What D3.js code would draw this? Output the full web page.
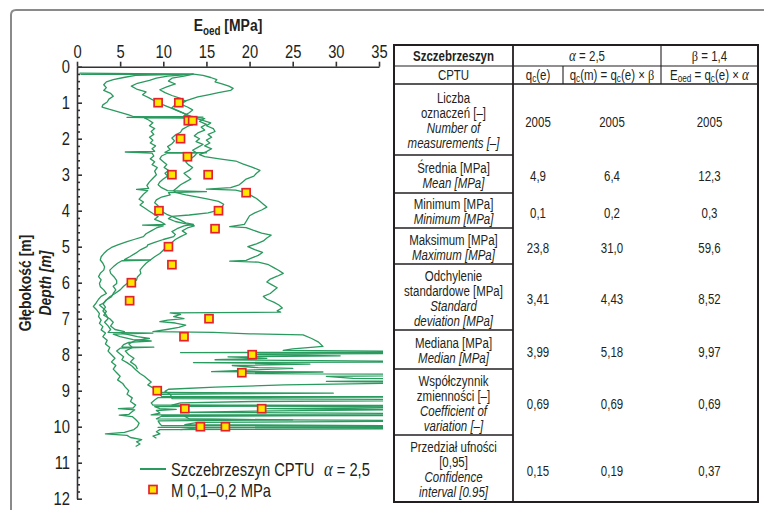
<!DOCTYPE html>
<html>
<head>
<meta charset="utf-8">
<script src="https://cdn.jsdelivr.net/npm/d3@7"></script>
<style>
  html, body { margin: 0; padding: 0; background: #fff; }
  svg { display: block; }
  text { font-family: "Liberation Sans", Arial, sans-serif; fill: #231f20; }
</style>
</head>
<body>
<svg id="chart" width="764" height="510"></svg>
<script>
// ---------- data ----------
const eTicks = [0, 5, 10, 15, 20, 25, 30, 35];            // E_oed [MPa]
const depthTicks = [0, 1, 2, 3, 4, 5, 6, 7, 8, 9, 10, 11, 12]; // depth [m]

// oedometer tests, M 0,1–0,2 MPa
const labDepth = [1.0, 1.0, 1.5, 1.5, 2.0, 2.5, 3.0, 3.0, 3.5, 4.0, 4.0, 4.5, 5.0, 5.5, 6.0, 6.5, 7.0, 7.5, 8.0, 8.5, 9.0, 9.5, 9.5, 10.0, 10.0];
const labE     = [9.4, 11.8, 12.9, 13.4, 12.0, 12.8, 11.0, 15.2, 19.6, 9.5, 16.4, 16.0, 10.6, 11.0, 6.3, 6.1, 15.3, 12.4, 20.3, 19.1, 9.3, 12.5, 21.4, 14.3, 17.2];

// CPTU soundings, Eoed = qc(e) x alpha : [depth m, Eoed MPa]
const soundingA = [
  [0.18,0.3],[0.205,13.4],[0.24,6.8],[0.30,5.4],[0.36,4.2],[0.42,3.4],[0.50,3.1],[0.58,3.4],[0.66,3.1],[0.74,3.9],
  [0.82,4.2],[0.90,3.7],[0.98,3.5],[1.06,3.0],[1.12,2.9],[1.18,3.7],[1.26,4.9],[1.34,6.0],[1.39,6.6],[1.40,14.6],
  [1.42,7.8],[1.48,8.3],[1.56,8.8],[1.64,8.4],[1.72,9.0],[1.80,8.6],[1.88,8.9],[1.96,8.4],[2.04,8.8],[2.12,8.5],
  [2.20,9.1],[2.28,8.7],[2.35,9.0],[2.37,5.6],[2.40,8.7],[2.48,8.9],[2.56,8.5],[2.64,9.0],[2.72,8.7],[2.80,9.3],
  [2.90,9.0],[3.00,9.2],[3.10,8.8],[3.20,8.4],[3.30,8.1],[3.38,8.3],[3.41,6.9],[3.44,8.2],[3.52,7.8],[3.60,7.5],
  [3.68,7.2],[3.76,7.7],[3.84,7.3],[3.92,7.8],[4.00,8.3],[4.08,8.8],[4.16,9.4],[4.24,9.0],[4.32,9.8],[4.38,10.2],
  [4.40,7.6],[4.42,10.0],[4.48,9.2],[4.56,8.6],[4.64,8.0],[4.72,7.7],[4.80,6.6],[4.86,5.8],[4.94,4.8],[5.02,4.0],
  [5.10,3.5],[5.19,3.1],[5.28,2.8],[5.37,2.7],[5.46,3.0],[5.56,3.2],[5.65,3.1],[5.74,2.7],[5.83,2.5],[5.92,2.8],
  [6.02,2.6],[6.11,2.7],[6.20,3.1],[6.30,3.4],[6.38,2.8],[6.46,2.5],[6.57,2.2],[6.66,1.9],[6.76,2.3],[6.86,2.6],
  [6.94,2.5],[7.04,2.8],[7.13,2.6],[7.22,3.0],[7.31,2.8],[7.40,3.3],[7.50,3.0],[7.60,3.5],[7.70,3.3],[7.80,3.8],
  [7.90,3.6],[8.00,4.0],[8.10,4.4],[8.20,4.0],[8.30,4.5],[8.40,4.2],[8.50,4.6],[8.60,5.0],[8.70,4.7],[8.80,5.3],
  [8.90,5.6],[9.00,6.0],[9.10,5.8],[9.20,6.4],[9.30,6.2],[9.40,6.8],[9.48,6.5],[9.50,4.8],[9.53,6.7],[9.60,6.3],
  [9.66,6.0],[9.68,4.9],[9.72,6.4],[9.80,6.8],[9.90,7.2],[10.00,7.0],[10.08,6.6],[10.16,5.5],[10.20,3.3],[10.24,5.8],
  [10.30,6.2],[10.36,7.5],[10.42,6.9],[10.48,7.3],[10.55,6.8]
];
const soundingB = [
  [0.215,0.4],[0.205,13.5],[0.26,10.5],[0.32,9.2],[0.38,8.4],[0.46,7.0],[0.54,6.3],[0.62,6.9],[0.70,8.0],[0.78,7.6],
  [0.86,8.3],[0.94,8.9],[1.00,9.4],[1.08,10.2],[1.16,11.0],[1.24,11.8],[1.32,12.6],[1.38,13.2],[1.41,5.8],[1.43,12.4],
  [1.50,13.0],[1.58,13.6],[1.66,12.8],[1.74,12.2],[1.82,12.0],[1.90,11.4],[1.98,11.0],[2.06,11.3],[2.14,11.0],[2.22,10.5],
  [2.30,10.8],[2.38,10.2],[2.39,15.0],[2.41,10.4],[2.48,9.8],[2.56,9.6],[2.64,10.0],[2.72,10.4],[2.80,10.1],[2.88,10.6],
  [2.96,10.2],[3.04,10.5],[3.12,10.0],[3.20,9.6],[3.28,9.4],[3.36,9.8],[3.44,10.5],[3.47,15.0],[3.50,10.6],[3.56,10.8],
  [3.62,9.8],[3.70,9.2],[3.78,9.0],[3.86,9.4],[3.94,9.2],[4.02,9.8],[4.10,10.4],[4.18,11.2],[4.26,12.0],[4.34,12.6],
  [4.38,13.5],[4.42,12.4],[4.50,11.6],[4.58,11.0],[4.66,11.4],[4.72,11.2],[4.80,10.0],[4.88,9.0],[4.95,8.2],[5.00,8.1],
  [5.08,7.4],[5.18,6.8],[5.28,6.1],[5.36,5.5],[5.37,8.5],[5.39,5.2],[5.46,4.7],[5.56,4.2],[5.65,3.8],[5.74,3.9],
  [5.84,4.3],[5.94,4.6],[6.02,4.6],[6.10,4.2],[6.20,4.5],[6.30,4.2],[6.39,4.0],[6.48,3.4],[6.58,3.0],[6.68,3.3],
  [6.78,3.0],[6.90,3.4],[7.00,3.6],[7.10,3.2],[7.20,3.6],[7.30,3.9],[7.38,3.6],[7.40,8.8],[7.43,4.2],[7.50,5.0],
  [7.58,6.5],[7.62,8.6],[7.66,6.0],[7.72,5.4],[7.78,5.2],[7.79,8.9],[7.82,5.0],[7.90,4.6],[7.98,5.0],[8.06,5.4],
  [8.14,5.2],[8.22,5.8],[8.32,6.4],[8.42,6.8],[8.52,7.3],[8.60,7.8],[8.68,8.2],[8.76,8.6],[8.84,8.2],[8.92,8.8],
  [9.00,9.3],[9.05,9.6],[9.07,29.7],[9.10,9.6],[9.16,9.8],[9.17,52.0],[9.19,9.4],[9.26,9.0],[9.34,8.6],[9.40,8.8],
  [9.41,47.0],[9.44,9.0],[9.50,9.6],[9.52,11.5],[9.55,9.2],[9.62,9.6],[9.67,8.6],[9.68,50.0],[9.71,9.8],[9.78,9.2],
  [9.81,25.0],[9.84,9.4],[9.92,9.6],[9.97,9.8],[9.98,58.0],[10.02,9.4],[10.05,55.0],[10.08,9.6],[10.14,9.2],[10.20,9.6],
  [10.26,8.8],[10.32,9.2]
];
const soundingC = [
  [0.205,13.5],[0.26,12.4],[0.32,11.0],[0.40,10.6],[0.48,11.4],[0.56,10.4],[0.64,9.6],[0.72,10.2],[0.80,11.0],[0.88,12.0],
  [0.96,12.6],[1.04,12.0],[1.12,12.8],[1.20,13.4],[1.28,13.0],[1.36,12.4],[1.40,13.8],[1.44,14.8],[1.52,14.2],[1.60,15.0],
  [1.68,14.4],[1.76,14.8],[1.84,14.0],[1.92,13.6],[2.00,14.2],[2.08,13.8],[2.16,14.6],[2.24,14.0],[2.32,13.4],[2.40,13.9],
  [2.48,13.6],[2.56,13.2],[2.64,12.6],[2.72,12.9],[2.80,13.4],[2.88,13.0],[2.96,12.4],[3.04,12.8],[3.12,13.2],[3.20,12.6],
  [3.28,12.0],[3.36,11.6],[3.44,11.2],[3.50,11.5],[3.56,12.6],[3.62,14.0],[3.68,15.2],[3.74,16.4],[3.82,17.0],[3.90,16.8],
  [3.98,16.5],[4.06,15.2],[4.12,13.0],[4.16,11.0],[4.22,10.6],[4.30,11.4],[4.36,12.5],[4.42,13.6],[4.48,12.8],[4.56,12.2],
  [4.64,12.7],[4.72,12.0],[4.80,11.4],[4.88,11.0],[4.95,10.8],[5.05,10.2],[5.19,9.6],[5.28,9.0],[5.37,8.5],[5.46,8.0],
  [5.56,7.6],[5.65,7.3],[5.74,7.4],[5.84,7.0],[5.93,6.9],[6.02,5.8],[6.10,5.4],[6.20,5.0],[6.30,4.4],[6.39,3.8],
  [6.48,3.4],[6.57,3.1],[6.62,2.6],[6.70,3.0],[6.80,3.4],[6.90,3.1],[7.00,3.8],[7.10,4.2],[7.20,3.9],[7.30,4.4],
  [7.36,5.5],[7.40,5.2],[7.50,7.0],[7.55,8.4],[7.60,6.8],[7.70,6.0],[7.80,6.4],[7.90,5.6],[8.00,6.0],[8.10,6.6],
  [8.20,6.2],[8.30,6.8],[8.40,7.0]
];
const soundingD = [
  [0.205,13.5],[0.24,14.6],[0.30,15.5],[0.36,16.2],[0.42,16.0],[0.48,16.8],[0.54,17.6],[0.60,18.1],[0.66,17.8],[0.72,16.4],
  [0.78,15.2],[0.84,14.0],[0.90,13.2],[0.96,12.4],[1.02,11.8],[1.08,11.3],[1.14,11.0],[1.20,11.5],[1.28,12.3],[1.36,12.8],
  [1.42,13.6],[1.48,14.4],[1.56,15.5],[1.64,15.0],[1.72,15.8],[1.80,16.0],[1.88,15.2],[1.96,15.6],[2.04,15.0],[2.12,15.4],
  [2.20,14.8],[2.28,15.6],[2.36,15.0],[2.44,14.2],[2.50,14.8],[2.56,16.5],[2.62,18.4],[2.70,19.2],[2.78,20.2],[2.88,21.2],
  [2.96,20.8],[3.04,20.5],[3.12,19.6],[3.20,19.2],[3.28,18.8],[3.36,17.8],[3.40,15.0],[3.43,18.4],[3.50,19.6],[3.58,20.2],
  [3.66,20.8],[3.74,21.2],[3.82,21.6],[3.90,22.0],[3.98,21.4],[4.06,20.6],[4.14,20.0],[4.22,19.8],[4.30,19.6],[4.38,19.4],
  [4.44,17.7],[4.47,19.6],[4.54,20.4],[4.62,21.4],[4.68,22.5],[4.76,22.0],[4.84,21.6],[4.92,20.8],[5.00,19.8],[5.08,20.6],
  [5.16,21.5],[5.24,21.0],[5.32,20.2],[5.38,19.6],[5.40,17.7],[5.43,21.0],[5.50,22.2],[5.58,22.8],[5.66,23.4],[5.74,23.9],
  [5.82,23.2],[5.90,22.4],[5.98,22.0],[6.06,22.6],[6.14,23.2],[6.22,22.8],[6.30,22.4],[6.38,21.6],[6.46,22.0],[6.54,22.8],
  [6.62,23.4],[6.70,23.8],[6.78,23.2],[6.82,23.6],[6.84,10.8],[6.88,12.0],[6.94,11.2],[7.00,12.4],[7.04,10.5],[7.08,9.6],
  [7.12,11.4],[7.18,12.6],[7.24,11.8],[7.30,10.4],[7.36,8.8],[7.38,15.8],[7.42,20.0],[7.45,26.2],[7.55,27.2],[7.65,28.0],
  [7.77,28.5],[7.84,25.0],[7.88,23.9],[7.92,48.0],[7.94,12.0],[7.96,52.0],[7.98,22.0],[8.00,20.0],[8.03,30.5],[8.06,17.5],
  [8.10,22.0],[8.14,16.0],[8.20,45.0],[8.22,13.5],[8.26,27.0],[8.30,18.0],[8.36,21.0],[8.38,25.0],[8.42,20.5],[8.47,15.6],
  [8.48,28.5],[8.52,19.0],[8.56,50.0],[8.60,28.9],[8.66,32.0],[8.70,54.0],[8.74,28.9],[8.78,40.0],[8.84,24.0],[8.90,16.0],
  [8.96,10.6],[9.02,10.2],[9.10,10.8],[9.18,11.0],[9.22,11.0],[9.26,59.6],[9.30,20.4],[9.34,12.0],[9.40,11.0],[9.46,42.0],
  [9.50,22.0],[9.53,36.0],[9.56,23.0],[9.60,12.0],[9.65,50.0],[9.70,12.4],[9.78,13.0],[9.81,24.0],[9.84,45.0],[9.88,14.0],
  [9.94,12.5],[10.00,56.0],[10.03,14.0],[10.08,12.0]
];
const soundings = [soundingA, soundingB, soundingC, soundingD];

// statistics table
const statNamesPl = ["Liczba\noznaczeń [–]", "Średnia [MPa]", "Minimum [MPa]", "Maksimum [MPa]",
                     "Odchylenie\nstandardowe [MPa]", "Mediana [MPa]", "Współczynnik\nzmienności [–]", "Przedział ufności\n[0,95]"];
const statNamesEn = ["Number of\nmeasurements [–]", "Mean [MPa]", "Minimum [MPa]", "Maximum [MPa]",
                     "Standard\ndeviation [MPa]", "Median [MPa]", "Coefficient of\nvariation [–]", "Confidence\ninterval [0.95]"];
const statsQcE  = ["2005", "4,9", "0,1", "23,8", "3,41", "3,99", "0,69", "0,15"];
const statsQcM  = ["2005", "6,4", "0,2", "31,0", "4,43", "5,18", "0,69", "0,19"];
const statsEoed = ["2005", "12,3", "0,3", "59,6", "8,52", "9,97", "0,69", "0,37"];

// ---------- drawing ----------
const svg = d3.select("#chart");
const green = "#2a9a5f";
const ink = "#231f20";
const serif = '"Liberation Serif", "Times New Roman", serif';

// outer frame
svg.append("path")
  .attr("d", "M11,512 L11,15 Q11,10 16,10 L766,10")
  .attr("fill", "none").attr("stroke", "#8a8a8a").attr("stroke-width", 2);

const x = d3.scaleLinear().domain([0, 35]).range([77, 379]);
const y = d3.scaleLinear().domain([0, 12]).range([66.7, 498.7]);

// clip the soundings to the plot strip
svg.append("clipPath").attr("id", "plotClip")
  .append("rect").attr("x", x(0)).attr("y", y(0)).attr("width", x(35) - x(0) + 4).attr("height", y(12) - y(0));

const line = d3.line().x(p => x(p[1])).y(p => y(p[0]));
svg.append("g").attr("clip-path", "url(#plotClip)")
  .selectAll("path").data(soundings).join("path")
  .attr("d", line)
  .attr("fill", "none").attr("stroke", green).attr("stroke-width", 1.3)
  .attr("stroke-linejoin", "round");

// lab test points
const labPts = labDepth.map((d, i) => [d, labE[i]]);
svg.append("g").selectAll("rect").data(labPts).join("rect")
  .attr("x", p => x(p[1]) - 4).attr("y", p => y(p[0]) - 4)
  .attr("width", 8).attr("height", 8)
  .attr("fill", "#ffe600").attr("stroke", "#e3232c").attr("stroke-width", 1.7);

// top axis
const xAxis = svg.append("g").attr("transform", `translate(0,${y(0)})`)
  .call(d3.axisTop(x).tickValues(eTicks).tickSize(5).tickSizeOuter(0).tickPadding(4).tickFormat(d3.format("d")));
xAxis.selectAll("text").attr("font-size", 18).attr("fill", ink);
xAxis.attr("font-family", null);

// left axis, ticks pointing into the plot
const yMinor = d3.range(0, 12.001, 0.2).filter(v => Math.abs(v - Math.round(v)) > 0.01);
svg.append("g").attr("transform", `translate(${x(0)},0)`)
  .call(d3.axisLeft(y).tickValues(yMinor).tickSizeInner(-3).tickSizeOuter(0).tickFormat(""))
  .call(g => g.select(".domain").remove());
const yAxis = svg.append("g").attr("transform", `translate(${x(0)},0)`)
  .call(d3.axisLeft(y).tickValues(depthTicks).tickSizeInner(-5).tickSizeOuter(0).tickPadding(7).tickFormat(d3.format("d")));
yAxis.selectAll("text").attr("font-size", 18).attr("fill", ink);
yAxis.attr("font-family", null);

svg.selectAll(".domain, .tick line").attr("stroke", "#333").attr("stroke-width", 1.6);

// axis titles
const xt = svg.append("text").attr("x", (x(0) + x(35)) / 2).attr("y", 31)
  .attr("text-anchor", "middle").attr("font-size", 17).attr("font-weight", "bold");
xt.append("tspan").text("E");
xt.append("tspan").attr("dy", 4).attr("font-size", 12).text("oed");
xt.append("tspan").attr("dy", -4).text(" [MPa]");

svg.append("text").attr("transform", "translate(31,283) rotate(-90)")
  .attr("text-anchor", "middle").attr("font-size", 17).attr("font-weight", "bold")
  .text("Głębokość [m]");
svg.append("text").attr("transform", "translate(51,283) rotate(-90)")
  .attr("text-anchor", "middle").attr("font-size", 17).attr("font-weight", "bold").attr("font-style", "italic")
  .text("Depth [m]");

// legend
svg.append("line").attr("x1", 140).attr("x2", 166).attr("y1", 469).attr("y2", 469)
  .attr("stroke", green).attr("stroke-width", 2);
svg.append("text").attr("x", 171).attr("y", 476).attr("font-size", 18).text("Szczebrzeszyn CPTU");
const lg = svg.append("text").attr("x", 324).attr("y", 476).attr("font-size", 18);
lg.append("tspan").style("font-family", serif).attr("font-style", "italic").attr("font-size", 20).text("α");
lg.append("tspan").text(" = 2,5");
svg.append("rect").attr("x", 149).attr("y", 485.5).attr("width", 8).attr("height", 8)
  .attr("fill", "#ffe600").attr("stroke", "#e3232c").attr("stroke-width", 1.7);
svg.append("text").attr("x", 171).attr("y", 497).attr("font-size", 18).text("M 0,1–0,2 MPa");

// ---------- statistics table ----------
const cols = [394, 513, 563, 661, 758];
const rows = [45, 66, 84, 155, 193, 228, 264, 330, 369, 435, 502];
const tb = svg.append("g");
const lineStyle = (sel, w) => sel.attr("stroke", ink).attr("stroke-width", w);

// horizontal rules
tb.append("line").attr("x1", cols[0]).attr("x2", cols[4]).attr("y1", rows[1]).attr("y2", rows[1]).call(lineStyle, 1.1);
tb.append("line").attr("x1", cols[0]).attr("x2", cols[4]).attr("y1", rows[2]).attr("y2", rows[2]).call(lineStyle, 1.6);
for (let r = 3; r < rows.length - 1; r++) {
  tb.append("line").attr("x1", cols[0]).attr("x2", cols[1]).attr("y1", rows[r]).attr("y2", rows[r]).call(lineStyle, 1.6);
}
// vertical rules
tb.append("line").attr("x1", cols[1]).attr("x2", cols[1]).attr("y1", rows[0]).attr("y2", rows[10]).call(lineStyle, 1.8);
tb.append("line").attr("x1", cols[3]).attr("x2", cols[3]).attr("y1", rows[0]).attr("y2", rows[2]).call(lineStyle, 1.1);
tb.append("line").attr("x1", cols[2]).attr("x2", cols[2]).attr("y1", rows[1]).attr("y2", rows[2]).call(lineStyle, 1.1);
// outer border
tb.append("rect").attr("x", cols[0]).attr("y", rows[0]).attr("width", cols[4] - cols[0]).attr("height", rows[10] - rows[0])
  .attr("fill", "none").call(lineStyle, 2);

const cx = i => (cols[i] + cols[i + 1]) / 2;
const fs = 14;

// header row 1
tb.append("text").attr("x", cx(0)).attr("y", (rows[0] + rows[1]) / 2 + 5).attr("text-anchor", "middle")
  .attr("font-size", fs).attr("font-weight", "bold").text("Szczebrzeszyn");
const a1 = tb.append("text").attr("x", (cols[1] + cols[3]) / 2).attr("y", (rows[0] + rows[1]) / 2 + 5)
  .attr("text-anchor", "middle").attr("font-size", fs);
a1.append("tspan").style("font-family", serif).attr("font-style", "italic").attr("font-size", 16).text("α");
a1.append("tspan").text(" = 2,5");
const b1 = tb.append("text").attr("x", cx(3)).attr("y", (rows[0] + rows[1]) / 2 + 5)
  .attr("text-anchor", "middle").attr("font-size", fs);
b1.append("tspan").style("font-family", serif).attr("font-size", 15).text("β");
b1.append("tspan").text(" = 1,4");

// header row 2
const hy = (rows[1] + rows[2]) / 2 + 5;
tb.append("text").attr("x", cx(0)).attr("y", hy).attr("text-anchor", "middle").attr("font-size", fs).text("CPTU");

function qc(t, suffix) {
  t.append("tspan").text("q");
  t.append("tspan").attr("dy", 2).attr("font-size", 10).text("c");
  t.append("tspan").attr("dy", -2).text(suffix);
}
const h2 = tb.append("text").attr("x", cx(1)).attr("y", hy).attr("text-anchor", "middle").attr("font-size", fs);
qc(h2, "(e)");
const h3 = tb.append("text").attr("x", cx(2)).attr("y", hy).attr("text-anchor", "middle").attr("font-size", fs);
qc(h3, "(m) = ");
qc(h3, "(e) × ");
h3.append("tspan").style("font-family", serif).attr("font-size", 15).text("β");
const h4 = tb.append("text").attr("x", cx(3)).attr("y", hy).attr("text-anchor", "middle").attr("font-size", fs);
h4.append("tspan").text("E");
h4.append("tspan").attr("dy", 2).attr("font-size", 10).text("oed");
h4.append("tspan").attr("dy", -2).text(" = ");
qc(h4, "(e) × ");
h4.append("tspan").style("font-family", serif).attr("font-style", "italic").attr("font-size", 16).text("α");

// statistic rows
const lh = 15;
statNamesPl.forEach((pl, i) => {
  const top = rows[i + 2], bot = rows[i + 3];
  const mid = (top + bot) / 2 + 1.5;
  const lines = pl.split("\n").map(t => ({ t, it: false }))
    .concat(statNamesEn[i].split("\n").map(t => ({ t, it: true })));
  const y0 = mid - (lines.length - 1) * lh / 2;
  lines.forEach((ln, j) => {
    tb.append("text").attr("x", cx(0)).attr("y", y0 + j * lh).attr("dy", "0.35em")
      .attr("text-anchor", "middle").attr("font-size", fs)
      .attr("font-style", ln.it ? "italic" : "normal").text(ln.t);
  });
  [statsQcE[i], statsQcM[i], statsEoed[i]].forEach((v, k) => {
    tb.append("text").attr("x", cx(k + 1)).attr("y", mid + 1).attr("dy", "0.35em")
      .attr("text-anchor", "middle").attr("font-size", fs).text(v);
  });
});

// condensed lettering: narrow every label horizontally around its anchor point
svg.selectAll("text").each(function () {
  const t = d3.select(this);
  const tx = +t.attr("x") || 0, ty = +t.attr("y") || 0;
  const prev = t.attr("transform") || "";
  t.attr("x", 0).attr("y", 0)
   .attr("transform", `${prev} translate(${tx},${ty}) scale(0.82,1)`.trim());
});
</script>
</body>
</html>
